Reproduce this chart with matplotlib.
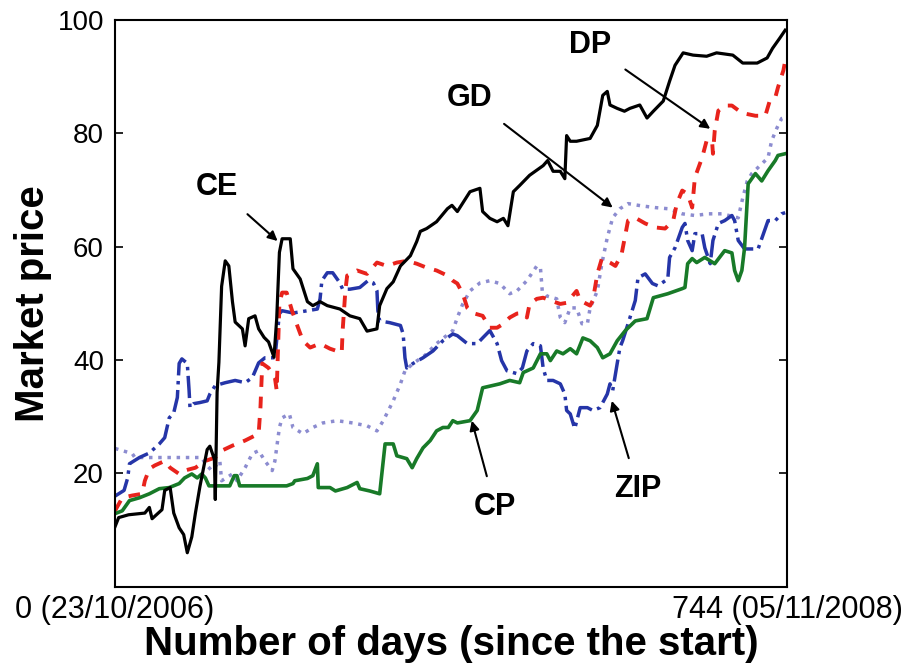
import matplotlib
matplotlib.use("Agg")
import matplotlib.pyplot as plt

plt.rcParams['font.family'] = ['Liberation Sans', 'DejaVu Sans']

# CE (black solid)
ce_days = [0, 4, 15, 33, 38, 41, 52, 55, 61, 65, 71, 76, 80, 85, 89, 94, 102, 105, 110, 111,
           113, 115, 118, 122, 126, 130, 133, 141, 144, 148, 155, 159, 165, 170, 176, 179,
           182, 185, 194, 197, 205, 213, 219, 227, 235, 249, 260, 271, 279, 290, 293, 301,
           308, 316, 327, 334, 338, 345, 356, 368, 373, 379, 393, 404, 407, 415, 423, 430,
           435, 441, 448, 459, 474, 479, 485, 493, 498, 500, 504, 511, 526, 534, 540, 545,
           548, 556, 564, 570, 581, 589, 596, 607, 614, 620, 629, 640, 655, 666, 684, 695,
           711, 722, 728, 736, 742]
ce_price = [10.6, 12.2, 12.7, 13.0, 14.0, 12.0, 13.6, 17.0, 17.5, 13.0, 10.4, 9.2, 6.0, 8.8,
            13.0, 17.7, 24.2, 24.8, 22.5, 15.4, 34.3, 39.6, 53.0, 57.5, 56.6, 50.3, 46.7,
            45.5, 42.5, 47.3, 47.8, 45.5, 44.0, 43.2, 40.5, 47.3, 59.0, 61.4, 61.4, 56.1,
            54.3, 50.3, 49.6, 50.3, 49.6, 49.0, 47.8, 47.3, 45.1, 45.5, 49.6, 52.6, 53.8,
            56.6, 58.4, 60.9, 62.7, 63.2, 64.4, 66.7, 67.3, 66.2, 69.7, 70.3, 66.2, 65.0,
            64.4, 65.0, 63.7, 69.7, 70.8, 72.6, 74.3, 75.2, 73.3, 73.3, 72.0, 79.6, 78.6,
            78.6, 79.1, 81.4, 86.7, 87.4, 85.0, 84.4, 83.9, 84.4, 85.0, 82.7, 83.9, 85.7,
            89.2, 92.0, 94.2, 93.8, 93.6, 94.2, 93.8, 92.4, 92.4, 93.3, 95.0, 96.8, 98.2]

# DP (red dashed)
dp_days = [0, 8, 19, 30, 33, 38, 44, 55, 61, 71, 77, 89, 100, 111, 118, 130, 144, 159, 161,
           163, 170, 177, 179, 182, 185, 190, 196, 201, 208, 216, 227, 238, 251, 252, 255,
           257, 268, 279, 290, 301, 312, 323, 334, 345, 356, 368, 374, 379, 385, 390, 396,
           407, 415, 423, 430, 437, 445, 452, 456, 459, 467, 474, 482, 493, 500, 511, 515,
           526, 529, 534, 539, 548, 554, 559, 561, 568, 576, 587, 598, 609, 618, 622, 628,
           634, 639, 642, 650, 655, 661, 662, 664, 668, 675, 683, 694, 709, 720, 725, 731,
           734, 740, 742]
dp_price = [13.4, 15.7, 16.1, 16.4, 18.7, 20.8, 21.4, 22.2, 21.0, 19.9, 20.5, 21.0, 22.2,
            22.8, 24.0, 24.9, 25.8, 27.0, 31.6, 39.4, 38.6, 36.9, 34.6, 50.0, 51.9, 51.9,
            48.7, 46.4, 43.4, 42.2, 42.9, 42.0, 41.3, 45.2, 52.2, 54.9, 55.8, 55.2, 57.2,
            56.6, 57.2, 57.5, 57.0, 56.3, 55.8, 54.9, 54.0, 53.5, 51.7, 49.2, 48.3, 47.8,
            45.7, 45.7, 46.4, 47.5, 48.2, 48.3, 47.5, 49.9, 50.8, 51.0, 50.5, 49.9, 50.1,
            52.2, 50.5, 49.6, 50.5, 55.2, 57.9, 57.2, 56.6, 58.1, 58.8, 64.6, 65.1, 64.1,
            63.4, 63.2, 64.6, 67.6, 69.9, 69.3, 66.9, 72.2, 75.7, 78.7, 78.7, 76.4, 80.5,
            84.0, 84.9, 84.9, 83.6, 83.1, 83.1, 85.8, 86.3, 88.1, 91.1, 92.8]

# ZIP (blue dash-dot)
zip_days = [0, 10, 14, 16, 27, 38, 49, 55, 60, 65, 69, 71, 74, 80, 82, 83, 87, 94, 102, 105,
            111, 122, 133, 144, 152, 159, 166, 177, 182, 185, 197, 213, 224, 227, 229, 235,
            241, 249, 252, 260, 271, 280, 286, 290, 291, 293, 304, 316, 319, 321, 323, 330,
            341, 352, 363, 374, 379, 390, 401, 407, 415, 423, 428, 434, 445, 451, 456, 463,
            471, 474, 478, 485, 493, 498, 500, 504, 509, 515, 523, 529, 537, 545, 548, 551,
            556, 559, 562, 568, 576, 579, 587, 595, 601, 612, 614, 620, 628, 631, 634, 639,
            642, 650, 653, 659, 662, 668, 675, 683, 686, 690, 697, 712, 723, 731, 738, 742]
zip_price = [16.0, 17.0, 19.2, 21.7, 22.8, 23.6, 25.2, 26.3, 29.8, 30.7, 33.4, 39.4, 40.2,
             39.4, 34.6, 31.6, 32.3, 32.5, 32.8, 34.0, 35.5, 36.0, 36.4, 36.0, 36.9, 39.5,
             40.4, 40.4, 48.2, 48.7, 48.3, 48.7, 49.0, 50.8, 54.0, 55.4, 55.4, 53.6, 52.5,
             52.5, 52.8, 54.0, 53.6, 52.2, 48.7, 46.9, 46.6, 46.1, 44.6, 40.4, 38.6, 39.4,
             40.4, 41.6, 43.4, 44.6, 44.3, 42.9, 42.9, 43.9, 45.2, 42.9, 39.9, 38.1, 37.6,
             38.6, 41.6, 42.9, 42.5, 38.6, 36.4, 36.4, 35.8, 34.0, 31.1, 30.5, 27.9, 31.6,
             31.6, 31.1, 31.6, 34.0, 35.8, 34.6, 39.4, 42.2, 43.4, 46.4, 50.5, 54.5, 55.2,
             53.5, 53.1, 54.3, 58.1, 59.8, 63.4, 64.1, 61.1, 59.3, 62.3, 62.3, 59.8, 57.0,
             61.1, 64.1, 64.6, 65.5, 64.6, 61.1, 59.6, 59.6, 64.6, 64.6, 65.8, 66.0]

# CP (green solid)
cp_days = [0, 8, 16, 27, 38, 49, 60, 71, 77, 85, 91, 96, 100, 104, 127, 132, 135, 138, 190,
           197, 199, 213, 219, 224, 225, 238, 244, 257, 268, 271, 282, 293, 299, 308, 312,
           323, 329, 334, 341, 349, 356, 363, 369, 374, 379, 393, 401, 407, 426, 437, 448,
           452, 463, 471, 478, 482, 489, 496, 504, 511, 518, 526, 534, 540, 548, 556, 565,
           576, 589, 596, 612, 628, 631, 634, 639, 644, 653, 664, 675, 683, 686, 690, 694,
           697, 701, 709, 716, 723, 731, 734, 742]
cp_price = [12.9, 13.4, 15.2, 15.7, 16.4, 17.3, 17.5, 18.2, 19.2, 19.9, 19.2, 19.9, 19.2,
            17.8, 17.8, 19.6, 19.6, 17.8, 17.8, 18.2, 18.7, 19.1, 19.6, 21.7, 17.5, 17.5,
            16.9, 17.5, 18.4, 17.3, 16.9, 16.4, 25.2, 25.2, 23.1, 22.6, 21.0, 22.6, 24.5,
            25.8, 27.5, 28.1, 28.1, 29.3, 28.9, 29.3, 31.1, 35.1, 35.8, 36.4, 36.0, 37.8,
            38.6, 41.1, 41.1, 39.9, 41.6, 41.1, 42.0, 41.1, 43.9, 43.4, 42.2, 40.4, 41.1,
            43.4, 45.2, 46.9, 47.3, 51.0, 51.7, 52.6, 52.8, 57.0, 57.9, 57.2, 58.1, 57.0,
            59.3, 58.9, 55.8, 54.0, 55.8, 59.8, 71.1, 72.9, 71.6, 73.4, 75.2, 76.1, 76.4]

# GD (dotted)
gd_days = [0, 19, 22, 96, 100, 107, 116, 118, 130, 135, 144, 152, 159, 166, 174, 177, 182,
           185, 193, 197, 208, 219, 230, 246, 263, 279, 290, 297, 308, 316, 321, 330, 343,
           356, 374, 379, 385, 393, 404, 415, 426, 437, 445, 456, 467, 471, 473, 478, 489,
           493, 498, 504, 511, 517, 523, 526, 534, 539, 545, 551, 559, 568, 583, 598, 612,
           628, 642, 657, 672, 690, 695, 700, 705, 716, 723, 727, 733, 738, 742]
gd_price = [24.4, 23.5, 22.8, 22.8, 21.7, 20.5, 22.2, 18.7, 19.9, 18.7, 21.0, 23.5, 24.0,
            22.2, 20.5, 22.2, 28.1, 29.8, 30.5, 28.1, 27.0, 28.1, 28.9, 29.3, 28.9, 28.4,
            27.5, 29.3, 32.8, 35.8, 38.1, 39.4, 40.8, 42.9, 45.2, 47.5, 49.9, 52.2, 53.6,
            54.0, 53.5, 51.7, 52.2, 54.0, 56.6, 56.3, 52.2, 51.3, 50.8, 47.5, 46.6, 49.2,
            49.2, 46.4, 46.4, 49.2, 52.2, 57.0, 61.6, 65.1, 66.7, 67.6, 67.2, 66.9, 66.7,
            65.8, 65.5, 65.8, 65.8, 65.1, 68.6, 71.6, 72.9, 74.6, 75.7, 78.7, 81.0, 82.6, 82.8]

# annotations: label, text position, arrow tip
labels = ['CE', 'GD', 'DP', 'CP', 'ZIP']
text_pos = [(113, 70.5), (393, 86.3), (526, 95.6), (421, 14.0), (579, 17.2)]
arrow_tip = [(180, 61.0), (551, 66.9), (659, 80.8), (395, 29.3), (550, 32.8)]

fig = plt.figure(figsize=(9.13, 6.66), dpi=100)
ax = fig.add_axes([0.126, 0.119, 0.736, 0.851])

ax.plot(gd_days, gd_price, color='#8c8cd0', linestyle=':', linewidth=2.5)
ax.plot(zip_days, zip_price, color='#2535a8', linestyle='-.', linewidth=2.5)
ax.plot(dp_days, dp_price, color='#e8231c', linestyle='--', linewidth=2.8, dashes=(3, 2.5))
ax.plot(cp_days, cp_price, color='#187a28', linestyle='-', linewidth=2.6)
ax.plot(ce_days, ce_price, color='black', linestyle='-', linewidth=2.3)

for lab, tp, tip in zip(labels, text_pos, arrow_tip):
    ax.annotate(lab, xy=tip, xytext=tp, fontsize=22, fontweight='bold',
                ha='center', va='center',
                arrowprops=dict(arrowstyle='-|>', color='black', lw=1.5,
                                shrinkA=10, shrinkB=0, mutation_scale=14))

ax.set_xlim(0, 744)
ax.set_ylim(0, 100)
ax.set_xticks([0, 744])
ax.set_xticklabels(['0 (23/10/2006)', '744 (05/11/2008)'])
ax.set_yticks([20, 40, 60, 80, 100])
ax.tick_params(axis='both', direction='in', labelsize=20, length=6, width=1.2,
               right=True, pad=8)
ax.tick_params(axis='x', length=0, labelsize=22, pad=6)
for s in ax.spines.values():
    s.set_linewidth(1.5)

ax.set_xlabel('Number of days (since the start)', fontsize=29, fontweight='bold', labelpad=0)
ax.set_ylabel('Market price', fontsize=29, fontweight='bold', labelpad=4)

fig.savefig('out.png', dpi=100)
